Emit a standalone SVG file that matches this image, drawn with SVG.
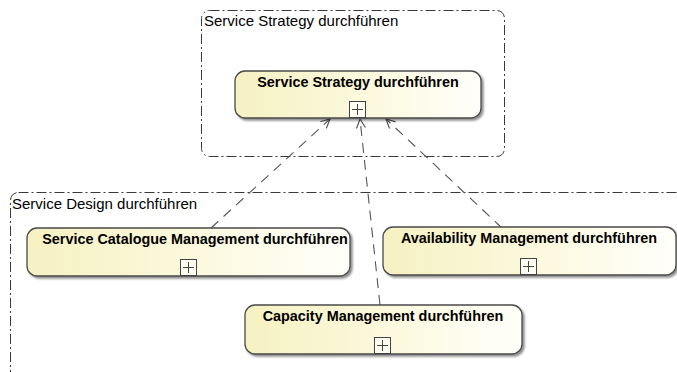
<svg xmlns="http://www.w3.org/2000/svg" width="677" height="372" viewBox="0 0 677 372">
<defs>
<linearGradient id="nodeFill" x1="0" y1="0" x2="1" y2="0">
<stop offset="0" stop-color="#f6f1c2"/>
<stop offset="0.55" stop-color="#fcf9df"/>
<stop offset="1" stop-color="#fffffa"/>
</linearGradient>
<filter id="shadow" x="-5%" y="-10%" width="115%" height="130%">
<feGaussianBlur in="SourceAlpha" stdDeviation="1.2"/>
<feOffset dx="2" dy="2" result="b"/>
<feComponentTransfer><feFuncA type="linear" slope="0.45"/></feComponentTransfer>
<feMerge><feMergeNode/><feMergeNode in="SourceGraphic"/></feMerge>
</filter>
<marker id="openArrow" markerWidth="12" markerHeight="12" refX="10" refY="6" orient="auto" markerUnits="userSpaceOnUse">
<path d="M1,1.5 L10,6 L1,10.5" fill="none" stroke="#555" stroke-width="1.2"/>
</marker>
</defs>
<style>
.frame{fill:none;stroke:#3a3a3a;stroke-width:1;stroke-dasharray:10 3 2 3;}
.flabel{font-family:"Liberation Sans",Arial,sans-serif;font-size:15px;fill:#000;}
.node{fill:url(#nodeFill);stroke:#4a4a4a;stroke-width:1.3;filter:url(#shadow);}
.ntext{font-family:"Liberation Sans",Arial,sans-serif;font-size:14.4px;font-weight:bold;fill:#000;text-anchor:middle;}
.plus{fill:#fffff4;stroke:#444;stroke-width:1;}
.plusline{stroke:#444;stroke-width:1;}
.conn{fill:none;stroke:#555;stroke-width:1.1;stroke-dasharray:10 7;marker-end:url(#openArrow);}
</style>

<g id="frame-strategy">
<rect class="frame" x="201.5" y="10.5" width="303" height="146" rx="8"/>
<text class="flabel" x="204" y="26">Service Strategy durchführen</text>
</g>

<g id="frame-design">
<rect class="frame" x="10.5" y="192.5" width="720" height="220" rx="8"/>
<text class="flabel" x="12" y="209">Service Design durchführen</text>
</g>

<g id="connectors">
<path class="conn" d="M211,228 L330,119"/>
<path class="conn" d="M380,305 L360,119"/>
<path class="conn" d="M502,228 L386,119"/>
</g>

<g id="node-strategy">
<rect class="node" x="235" y="71" width="246" height="47" rx="10"/>
<text class="ntext" x="358" y="87">Service Strategy durchführen</text>
<rect class="plus" x="349.5" y="101.5" width="16" height="16"/>
<line class="plusline" x1="352" y1="109.5" x2="363" y2="109.5"/>
<line class="plusline" x1="357.5" y1="104" x2="357.5" y2="115"/>
</g>

<g id="node-catalogue">
<rect class="node" x="27" y="228" width="323" height="48" rx="10"/>
<text class="ntext" x="195" y="244">Service Catalogue Management durchführen</text>
<rect class="plus" x="180.5" y="259.5" width="16" height="16"/>
<line class="plusline" x1="183" y1="267.5" x2="194" y2="267.5"/>
<line class="plusline" x1="188.5" y1="262" x2="188.5" y2="273"/>
</g>

<g id="node-availability">
<rect class="node" x="383" y="227" width="293" height="48" rx="10"/>
<text class="ntext" x="529" y="243">Availability Management durchführen</text>
<rect class="plus" x="520.5" y="258.5" width="16" height="16"/>
<line class="plusline" x1="523" y1="266.5" x2="534" y2="266.5"/>
<line class="plusline" x1="528.5" y1="261" x2="528.5" y2="272"/>
</g>

<g id="node-capacity">
<rect class="node" x="245" y="305" width="277" height="49" rx="10"/>
<text class="ntext" x="383" y="321">Capacity Management durchführen</text>
<rect class="plus" x="374.5" y="337.5" width="16" height="16"/>
<line class="plusline" x1="377" y1="345.5" x2="388" y2="345.5"/>
<line class="plusline" x1="382.5" y1="340" x2="382.5" y2="351"/>
</g>
</svg>
